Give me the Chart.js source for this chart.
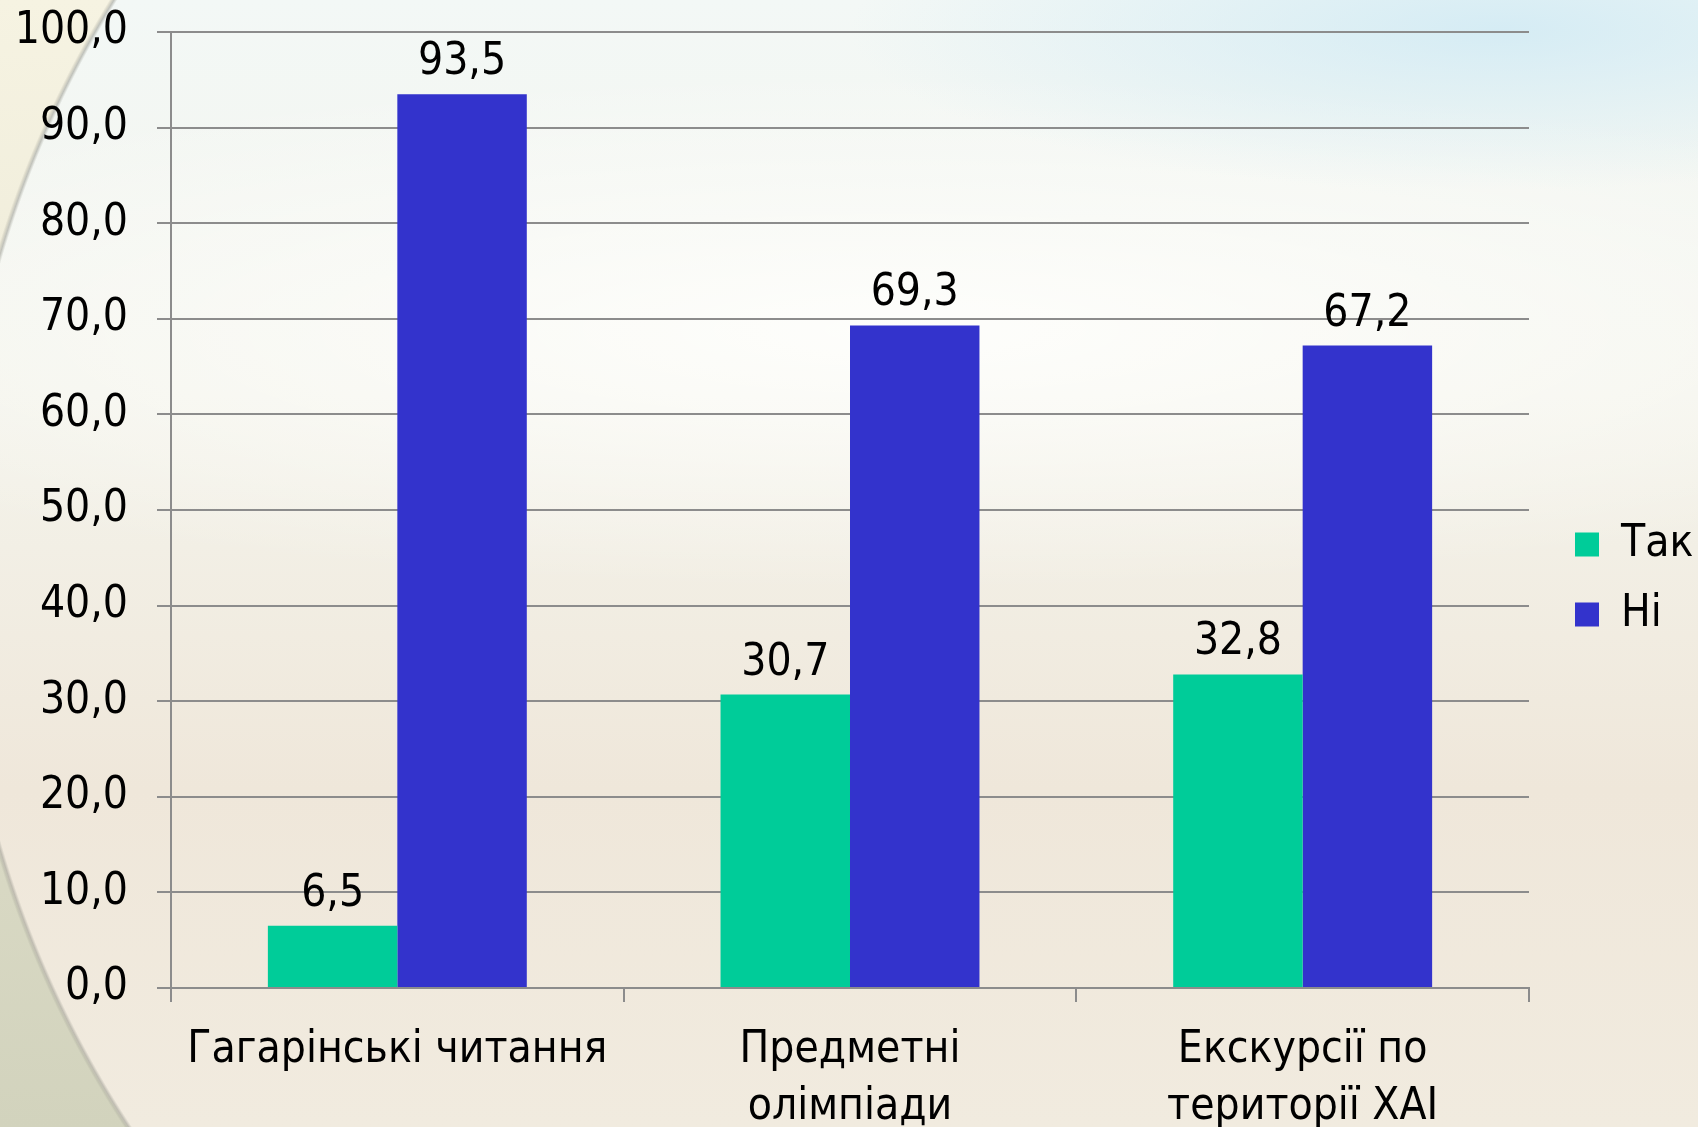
<!DOCTYPE html>
<html>
<head>
<meta charset="utf-8">
<script src="https://cdn.jsdelivr.net/npm/chart.js@4/dist/chart.umd.min.js"></script>
<style>
  html, body { margin: 0; padding: 0; }
  body {
    width: 1698px; height: 1127px; overflow: hidden; position: relative;
    background:
      radial-gradient(ellipse 650px 160px at 1500px 30px, rgba(208,234,244,0.85), rgba(208,234,244,0) 100%),
      radial-gradient(ellipse 1300px 260px at 900px 330px, rgba(255,255,253,0.9), rgba(255,255,253,0) 100%),
      linear-gradient(180deg, #f3f8f6 0%, #f4f4ec 35%, #efe7da 70%, #f1ebdf 100%);
  }
  #edge {
    position: absolute; left: 0; top: 0; width: 1698px; height: 1127px;
    background: linear-gradient(180deg, #f6f3e2 0%, #ece9d6 45%, #d9d9c4 75%, #d2d3bd 100%);
    -webkit-mask-image: radial-gradient(circle at 1006px 552px, transparent 1049px, #000 1051px);
    mask-image: radial-gradient(circle at 1006px 552px, transparent 1049px, #000 1051px);
  }
  #ring {
    position: absolute; left: 0; top: 0; width: 1698px; height: 1127px;
    background: radial-gradient(circle at 1006px 552px, transparent 1046px, rgba(150,150,140,0.55) 1049px, rgba(150,150,140,0) 1053px);
  }
  #wrap { position: absolute; left: 0; top: 0; width: 1698px; height: 1127px; }
</style>
</head>
<body>
<div id="edge"></div>
<div id="ring"></div>
<div id="wrap"><canvas id="myChart"></canvas></div>
<script>
  const categories = [["Гагарінські читання"], ["Предметні", "олімпіади"], ["Екскурсії по", "території ХАІ"]];
  const seriesNames = ["Так", "Ні"];
  const takValues = [6.5, 30.7, 32.8];
  const niValues = [93.5, 69.3, 67.2];
  const yTicks = [0, 10, 20, 30, 40, 50, 60, 70, 80, 90, 100];

  const fontFamily = '"DejaVu Sans Condensed", "Liberation Sans Narrow", "Noto Sans", sans-serif';
  const comma = v => Number(v).toFixed(1).replace('.', ',');

  // value labels above each bar
  const valueLabels = {
    id: 'valueLabels',
    afterDatasetsDraw(chart) {
      const ctx = chart.ctx;
      ctx.save();
      ctx.font = '44px ' + fontFamily;
      ctx.fillStyle = '#000';
      ctx.textAlign = 'center';
      ctx.textBaseline = 'alphabetic';
      chart.data.datasets.forEach((ds, i) => {
        chart.getDatasetMeta(i).data.forEach((bar, j) => {
          ctx.fillText(comma(ds.data[j]), bar.x, bar.y - 20);
        });
      });
      ctx.restore();
    }
  };

  Chart.defaults.font.family = fontFamily;
  Chart.defaults.color = '#000';

  new Chart(
    document.getElementById("myChart"),
    {
      type: "bar",
      data: {
        labels: categories,
        datasets: [
          { label: seriesNames[0], data: takValues, backgroundColor: '#00CC99', categoryPercentage: 0.572, barPercentage: 1.0 },
          { label: seriesNames[1], data: niValues, backgroundColor: '#3333CC', categoryPercentage: 0.572, barPercentage: 1.0 },
        ],
      },
      options: {
        responsive: true,
        maintainAspectRatio: false,
        animation: false,
        layout: { padding: { top: 32, left: 0, right: 0, bottom: 0 } },
        plugins: {
          tooltip: { enabled: false },
          legend: {
            position: 'right',
            align: 'center',
            maxWidth: 149,
            labels: { boxWidth: 24, boxHeight: 24, padding: 26, font: { size: 44 }, color: '#000' },
          },
        },
        scales: {
          x: {
            grid: { drawOnChartArea: false, tickLength: 14, color: '#8c8c8c', lineWidth: 2 },
            border: { color: '#8c8c8c', width: 2 },
            ticks: { font: { size: 44, lineHeight: 1.3 }, padding: 20, maxRotation: 0, autoSkip: false },
            afterFit(s) { s.height = 139; },
          },
          y: {
            min: 0, max: 100,
            afterBuildTicks(s) { s.ticks = yTicks.map(v => ({ value: v })); },
            grid: { color: '#8c8c8c', lineWidth: 2, tickLength: 14 },
            border: { color: '#8c8c8c', width: 2 },
            ticks: { font: { size: 44 }, padding: 29, callback: v => comma(v) },
            afterFit(s) { s.width = 171; s.paddingTop = 0; s.paddingBottom = 0; },
          },
          y2: {
            position: 'right',
            grid: { display: false, drawTicks: false },
            border: { display: false },
            ticks: { display: false },
            afterFit(s) { s.width = 20; s.paddingTop = 0; s.paddingBottom = 0; },
          },
        },
      },
      plugins: [valueLabels],
    }
  );
</script>
</body>
</html>
